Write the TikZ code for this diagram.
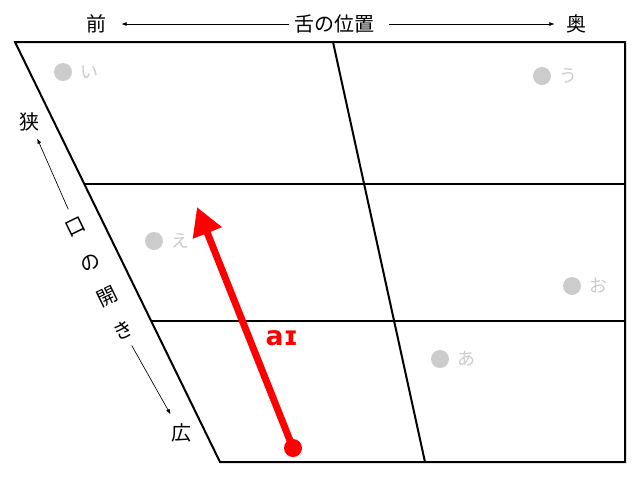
\documentclass[tikz,border=0pt]{standalone}
\usepackage{fontspec}
\usepackage{tikz}
\usetikzlibrary{arrows.meta,calc}
\newfontfamily\jpfont{Noto Sans CJK JP}
\newfontfamily\ipafont{DejaVu Sans}
\definecolor{dotgray}{RGB}{204,204,204}

\begin{document}
\begin{tikzpicture}[x=0.75pt, y=-0.75pt,
    chart/.style={line width=1.5pt},
    jp/.style={font=\jpfont\fontsize{15}{15}\selectfont},
    thinarrow/.style={line width=0.5pt, -{Latex[length=4pt,width=3pt]}},
    vowel/.style={circle, fill=dotgray, inner sep=0pt, minimum size=13.5pt,
        label={[font=\jpfont\fontsize{13.5}{13.5}\selectfont, text=dotgray, label distance=2.5pt]right:#1}},
    glide/.style={red, line width=5.25pt, -{Triangle[length=21pt,width=22pt]}}]
    \useasboundingbox (0,0) rectangle (640,480);
    % corners of the chart
    \coordinate (tl) at (15,42);
    \coordinate (tr) at (625,42);
    \coordinate (br) at (625,462);
    \coordinate (bl) at (220,462);
    \coordinate (ml1) at ($(tl)!0.338!(bl)$);
    \coordinate (ml2) at ($(tl)!0.664!(bl)$);
    \draw[chart] (tl) -- (tr) -- (br) -- (bl) -- cycle;
    \draw[chart] (ml1) -- (ml1 -| tr);
    \draw[chart] (ml2) -- (ml2 -| tr);
    \draw[chart] (333,42) -- (425,462);
    % tongue position
    \node[jp] (mae) at (96,24) {前};
    \node[jp] (pos) at (334,24) {舌の位置};
    \node[jp] (oku) at (576,24) {奥};
    \draw[thinarrow, shorten >=8pt] (pos.west) -- (mae.east);
    \draw[thinarrow, shorten <=8pt, shorten >=5pt] (pos.east) -- (oku.west);
    % mouth opening
    \node[jp] (semaki) at (30,122) {狭};
    \node[jp] (hiroi) at (181,433) {広};
    \node[jp, rotate=26] (kuchi) at (76,227) {口};
    \node[jp, rotate=26] (no) at (90,263) {の};
    \node[jp, rotate=26] (hira) at (107,297) {開};
    \node[jp, rotate=26] (ki) at (123,330) {き};
    \draw[thinarrow, shorten <=5pt, shorten >=2pt] (kuchi) -- (semaki);
    \draw[thinarrow, shorten <=3.5pt, shorten >=4pt] (ki) -- (hiroi);
    % vowels
    \node[vowel=い] (vi) at (63,72) {};
    \node[vowel=う] (vu) at (542,76) {};
    \node[vowel=え] (ve) at (154,241) {};
    \node[vowel=お] (vo) at (572,286) {};
    \node[vowel=あ] (va) at (440,359) {};
    % diphthong
    \node[circle, fill=red, inner sep=0pt, minimum size=13.5pt] (start) at (293,448) {};
    \coordinate (finish) at (197,207);
    \draw[glide] (start.center) -- (finish);
    \node[text=red, font=\ipafont\fontsize{20}{20}\selectfont\bfseries] (diph) at (282,338) {aɪ};
\end{tikzpicture}
\end{document}
